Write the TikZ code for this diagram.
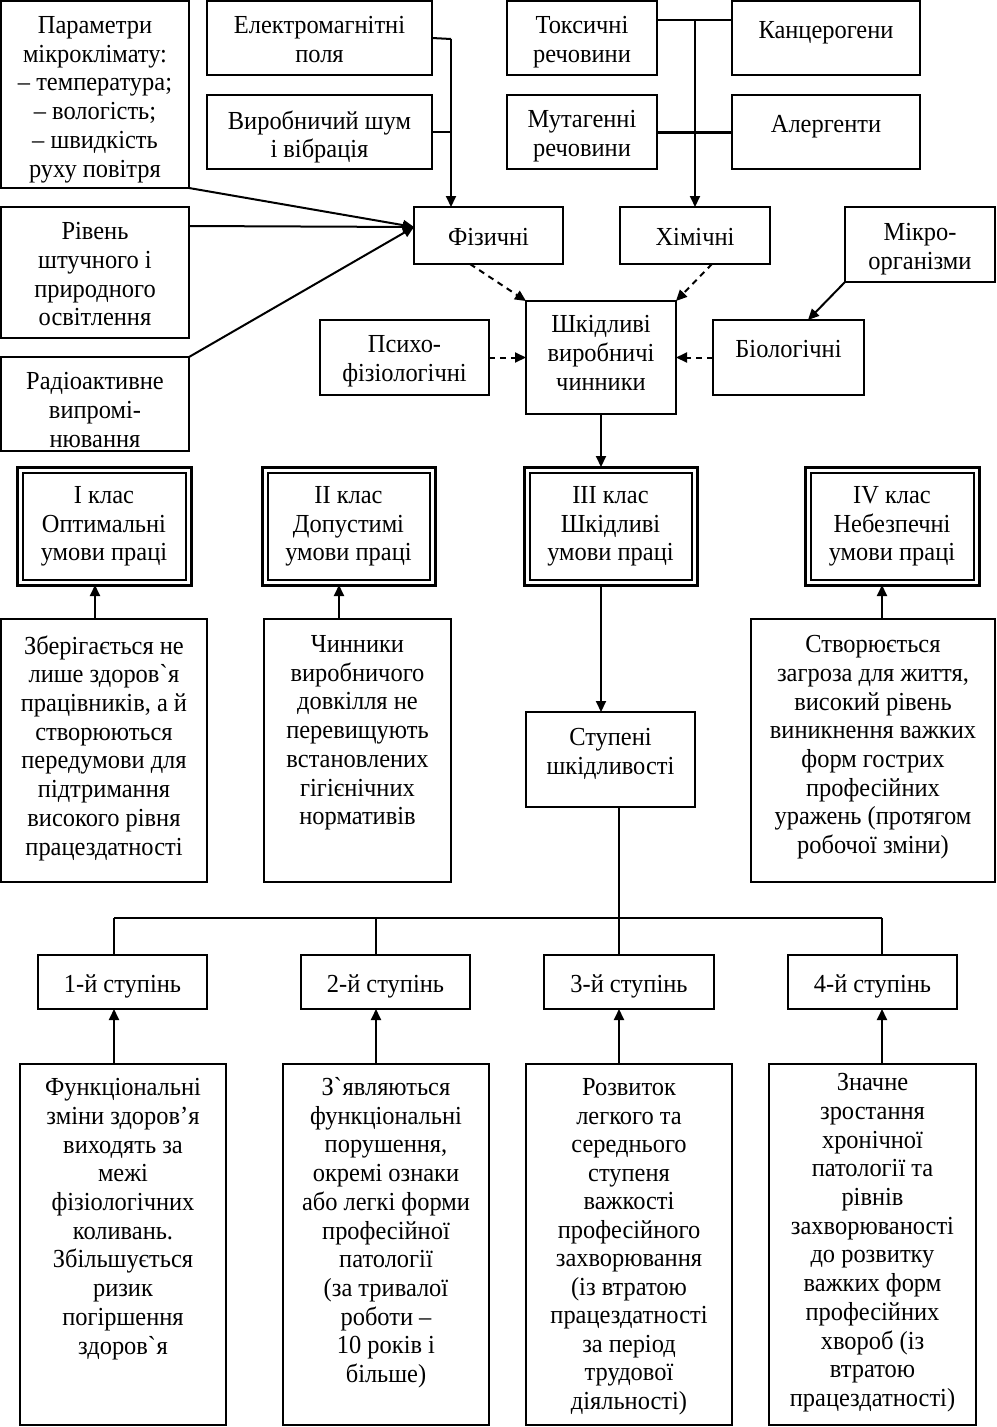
\documentclass[tikz,border=0pt]{standalone}
\usepackage{fontspec}
\setmainfont{Liberation Serif}[FakeStretch=0.94]
\usetikzlibrary{arrows.meta,calc}
\tikzset{
  bx/.style={draw, line width=2pt, inner sep=0pt, outer sep=0pt, anchor=north west},
  dbx/.style={bx, line width=3pt},
  txt/.style={align=center, inner sep=0pt, outer sep=0pt, anchor=north, yshift=16.5pt,
     font=\fontsize{26}{28.7}\selectfont, execute at begin node={\rule{0pt}{22pt}}},
  con/.style={line width=2pt},
  arr/.style={line width=2pt, -{Triangle[length=11pt,width=10pt]}},
  darr/.style={arr, dash pattern=on 6pt off 5pt},
}
\begin{document}
\begin{tikzpicture}[x=1pt,y=-1pt]
\useasboundingbox (0,0) rectangle (996,1427);
% top row
\node[bx, minimum width=188pt, minimum height=187pt] (par) at (1,1) {};
\node[txt] (part) at ($(par.north)+(0,32)$) {Параметри\\мікроклімату:\\– температура;\\– вологість;\\– швидкість\\руху повітря};
\node[bx, minimum width=225pt, minimum height=74pt] (em) at (207,1) {};
\node[txt] (emt) at ($(em.north)+(0,32)$) {Електромагнітні\\поля};
\node[bx, minimum width=225pt, minimum height=74pt] (vsh) at (207,95) {};
\node[txt] (vsht) at ($(vsh.north)+(0,32)$) {Виробничий шум\\і вібрація};
\node[bx, minimum width=150pt, minimum height=74pt] (tox) at (507,1) {};
\node[txt] (toxt) at ($(tox.north)+(0,32)$) {Токсичні\\речовини};
\node[bx, minimum width=188pt, minimum height=74pt] (kan) at (732,1) {};
\node[txt] (kant) at ($(kan.north)+(0,32)$) {Канцерогени};
\node[bx, minimum width=150pt, minimum height=74pt] (mut) at (507,95) {};
\node[txt] (mutt) at ($(mut.north)+(0,32)$) {Мутагенні\\речовини};
\node[bx, minimum width=188pt, minimum height=74pt] (al) at (732,95) {};
\node[txt] (alt) at ($(al.north)+(0,32)$) {Алергенти};
% second
\node[bx, minimum width=188pt, minimum height=131pt] (riv) at (1,207) {};
\node[txt] (rivt) at ($(riv.north)+(0,32)$) {Рівень\\штучного і\\природного\\освітлення};
\node[bx, minimum width=149pt, minimum height=57pt] (fiz) at (414,207) {};
\node[txt] (fizt) at ($(fiz.north)+(0,33)$) {Фізичні};
\node[bx, minimum width=150pt, minimum height=57pt] (him) at (620,207) {};
\node[txt] (himt) at ($(him.north)+(0,33)$) {Хімічні};
\node[bx, minimum width=150pt, minimum height=75pt] (mik) at (845,207) {};
\node[txt] (mikt) at ($(mik.north)+(0,33)$) {Мікро-\\організми};
\node[bx, minimum width=188pt, minimum height=94pt] (rad) at (1,357) {};
\node[txt] (radt) at ($(rad.north)+(0,32)$) {Радіоактивне\\випромі-\\нювання};
\node[bx, minimum width=169pt, minimum height=75pt] (psy) at (320,320) {};
\node[txt] (psyt) at ($(psy.north)+(0,32)$) {Психо-\\фізіологічні};
\node[bx, minimum width=150pt, minimum height=113pt] (shk) at (526,301) {};
\node[txt] (shkt) at ($(shk.north)+(0,31)$) {Шкідливі\\виробничі\\чинники};
\node[bx, minimum width=151pt, minimum height=75pt] (bio) at (713,320) {};
\node[txt] (biot) at ($(bio.north)+(0,32)$) {Біологічні};
% classes
\foreach \n/\x/\w/\t in {cl1/17/174/{I клас\\Оптимальні\\умови праці},
                         cl2/262/173/{II клас\\Допустимі\\умови праці},
                         cl3/524/173/{III клас\\Шкідливі\\умови праці},
                         cl4/805/174/{IV клас\\Небезпечні\\умови праці}}{
  \node[dbx, minimum width=\w pt, minimum height=118pt] (\n) at (\x,467) {};
  \draw[line width=2pt] ($(\n.north west)+(5.5,5.5)$) rectangle ($(\n.south east)+(-5.5,-5.5)$);
  \node[txt] (\n t) at ($(\n.north)+(0,36)$) {\t};
}
% class descriptions
\node[bx, minimum width=206pt, minimum height=263pt] (d1) at (1,619) {};
\node[txt] (d1t) at ($(d1.north)+(0,33)$) {Зберігається не\\лише здоров\textasciigrave я\\працівників, а й\\створюються\\передумови для\\підтримання\\високого рівня\\працездатності};
\node[bx, minimum width=187pt, minimum height=263pt] (d2) at (264,619) {};
\node[txt] (d2t) at ($(d2.north)+(0,33)$) {Чинники\\виробничого\\довкілля не\\перевищують\\встановлених\\гігієнічних\\нормативів};
\node[bx, minimum width=244pt, minimum height=263pt] (d4) at (751,619) {};
\node[txt] (d4t) at ($(d4.north)+(0,33)$) {Створюється\\загроза для життя,\\високий рівень\\виникнення важких\\форм гострих\\професійних\\уражень (протягом\\робочої зміни)};
\node[bx, minimum width=169pt, minimum height=95pt] (st) at (526,712) {};
\node[txt] (stt) at ($(st.north)+(0,33)$) {Ступені\\шкідливості};
% steps
\node[bx, minimum width=169pt, minimum height=54pt] (s1) at (38,955) {};
\node[txt] (s1t) at ($(s1.north)+(0,32)$) {1-й ступінь};
\node[bx, minimum width=169pt, minimum height=54pt] (s2) at (301,955) {};
\node[txt] (s2t) at ($(s2.north)+(0,32)$) {2-й ступінь};
\node[bx, minimum width=170pt, minimum height=54pt] (s3) at (544,955) {};
\node[txt] (s3t) at ($(s3.north)+(0,32)$) {3-й ступінь};
\node[bx, minimum width=169pt, minimum height=54pt] (s4) at (788,955) {};
\node[txt] (s4t) at ($(s4.north)+(0,32)$) {4-й ступінь};
% step descriptions
\node[bx, minimum width=206pt, minimum height=361pt] (e1) at (20,1064) {};
\node[txt] (e1t) at ($(e1.north)+(0,31)$) {Функціональні\\зміни здоров’я\\виходять за\\межі\\фізіологічних\\коливань.\\Збільшується\\ризик\\погіршення\\здоров\textasciigrave я};
\node[bx, minimum width=206pt, minimum height=361pt] (e2) at (283,1064) {};
\node[txt] (e2t) at ($(e2.north)+(0,30)$) {З\textasciigrave являються\\функціональні\\порушення,\\окремі ознаки\\або легкі форми\\професійної\\патології\\(за тривалої\\роботи –\\10 років і\\більше)};
\node[bx, minimum width=206pt, minimum height=361pt] (e3) at (526,1064) {};
\node[txt, font=\fontsize{26}{28.5}\selectfont] (e3t) at ($(e3.north)+(0,31)$) {Розвиток\\легкого та\\середнього\\ступеня\\важкості\\професійного\\захворювання\\(із втратою\\працездатності\\за період\\трудової\\діяльності)};
\node[bx, minimum width=207pt, minimum height=361pt] (e4) at (769,1064) {};
\node[txt] (e4t) at ($(e4.north)+(0,26)$) {Значне\\зростання\\хронічної\\патології та\\рівнів\\захворюваності\\до розвитку\\важких форм\\професійних\\хвороб (із\\втратою\\працездатності)};
% --- connectors ---
\coordinate (fj) at (451,39);
\draw[con] (em.east) -- (fj);
\draw[con] (vsh.east) -- (fj |- vsh.east);
\draw[arr] (fj) -- (fj |- fiz.north);
\coordinate (hj) at (695,20);
\draw[con] (tox.east |- hj) -- (kan.west |- hj);
\draw[con, line width=3pt] (mut.east) -- (al.west);
\draw[arr] (hj) -- (hj |- him.north);
\coordinate (fin) at ($(fiz.north west)+(0,20)$);
\draw[arr] (par.south east) -- (fin);
\draw[arr] ($(riv.north east)+(0,19)$) -- (fin);
\draw[arr] (rad.north east) -- (fin);
\draw[darr] ($(fiz.south west)+(56,0)$) -- (shk.north west);
\draw[darr] ($(him.south west)+(92,0)$) -- (shk.north east);
\draw[darr] (psy.east) -- (shk.west |- psy.east);
\draw[darr] (bio.west) -- (shk.east |- bio.west);
\draw[arr] (mik.south west) -- ($(bio.north west)+(95,0)$);
\draw[arr] (shk.south) -- (shk.south |- cl3.north);
\draw[arr] (shk.south |- cl3.south) -- (shk.south |- st.north);
\coordinate (tj) at (619,918);
\draw[con] (tj |- st.south) -- (tj);
\draw[con] (114,918) coordinate (t1) -- (882,918) coordinate (t4);
\coordinate (t2) at (376,918);
\coordinate (t3) at (619,918);
\foreach \t/\s in {t1/s1,t2/s2,t3/s3,t4/s4}{
  \draw[con] (\t) -- (\t |- \s.north);
}
\draw[arr] (t1 |- e1.north) -- (t1 |- s1.south);
\draw[arr] (t2 |- e2.north) -- (t2 |- s2.south);
\draw[arr] (t3 |- e3.north) -- (t3 |- s3.south);
\draw[arr] (t4 |- e4.north) -- (t4 |- s4.south);
\coordinate (c1) at (95,600);
\coordinate (c2) at (339,600);
\coordinate (c4) at (882,600);
\draw[arr] (c1 |- d1.north) -- (c1 |- cl1.south);
\draw[arr] (c2 |- d2.north) -- (c2 |- cl2.south);
\draw[arr] (c4 |- d4.north) -- (c4 |- cl4.south);
\end{tikzpicture}
\end{document}
